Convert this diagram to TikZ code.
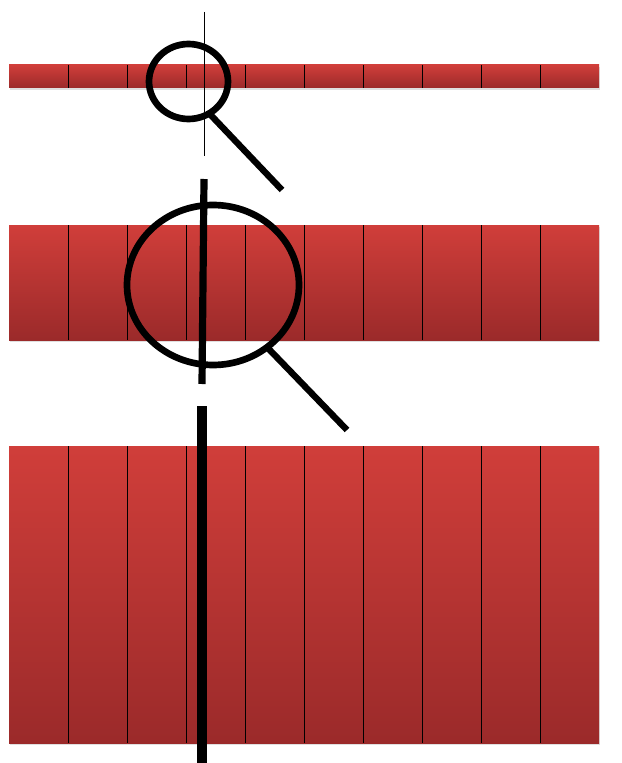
\documentclass[tikz,border=0pt]{standalone}
\usepackage{xcolor}
\usepackage{tikz}
\usetikzlibrary{calc,shapes.geometric,shadows}
\definecolor{barTop}{RGB}{208,62,58}
\definecolor{barBot}{RGB}{155,42,42}
\tikzset{
  bar/.style={draw=none, top color=barTop, bottom color=barBot,
    minimum width=442.5pt, inner sep=0pt, outer sep=0pt,
    drop shadow={opacity=0.25, shadow xshift=0.8pt, shadow yshift=-1.6pt}},
  divider/.style={black, line width=0.6pt},
  lens/.style={ellipse, draw=black, line width=5pt, inner sep=0pt, outer sep=0pt},
  grip/.style={black, line width=4.8pt},
  cutline/.style={black, line width=0.75pt},
  cutmid/.style={black, line width=5.4pt},
  cutbold/.style={black, line width=7.5pt}
}

\begin{document}
\begin{tikzpicture}[x=0.75pt, y=-0.75pt]
  \useasboundingbox (0,0) rectangle (621,763);

  \node[bar, minimum height=17.25pt] (barS) at (304,76.5) {};
  \node[bar, minimum height=86.25pt] (barM) at (304,282.5) {};
  \node[bar, minimum height=222.75pt] (barL) at (304,594.5) {};
  \foreach \b in {barS,barM,barL}
    \foreach \i in {1,...,9}
      \draw[divider] ($(\b.north west)!\i/10!(\b.north east)$)
        -- ($(\b.south west)!\i/10!(\b.south east)$);

  \node[lens, minimum width=59.25pt, minimum height=56.25pt] (lensS) at (188.5,81.5) {};
  \node[lens, minimum width=129pt, minimum height=120pt] (lensM) at (213,285) {};
  \coordinate (tipS) at (282,190);
  \coordinate (tipM) at (347,430);
  \draw[grip] (lensS.-57) -- (tipS);
  \draw[grip] (lensM.-49) -- (tipM);

  \coordinate (cutSa) at (204,12);
  \coordinate (cutSb) at (204,156);
  \coordinate (cutMa) at (204,179);
  \coordinate (cutMb) at (202,384);
  \coordinate (cutLa) at (202,406);
  \coordinate (cutLb) at (202,763);
  \draw[cutline] (cutSa) -- (cutSb);
  \draw[cutmid] (cutMa) -- (cutMb);
  \draw[cutbold] (cutLa) -- (cutLb);
\end{tikzpicture}
\end{document}
